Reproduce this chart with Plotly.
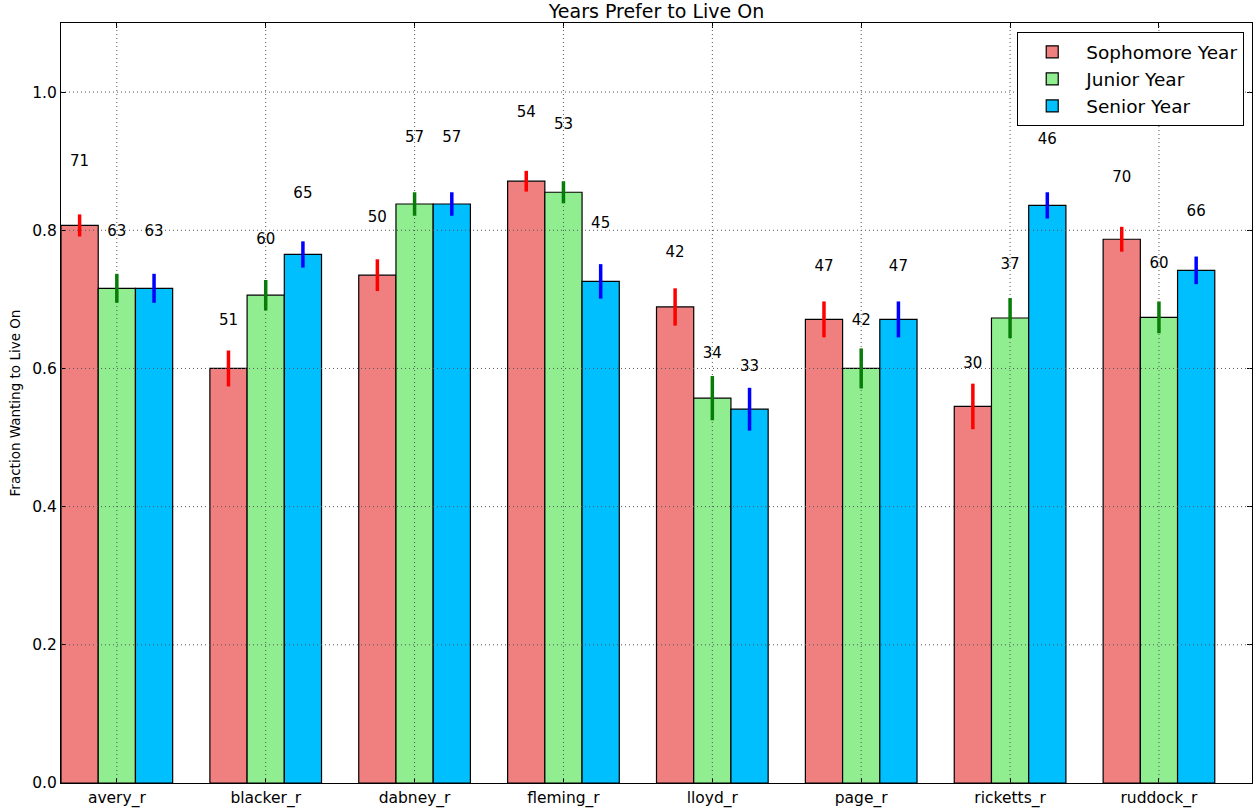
import plotly.graph_objects as go

categories = ["avery_r", "blacker_r", "dabney_r", "fleming_r", "lloyd_r", "page_r", "ricketts_r", "ruddock_r"]
series_names = ["Sophomore Year", "Junior Year", "Senior Year"]

soph_frac = [0.807, 0.600, 0.735, 0.871, 0.689, 0.671, 0.545, 0.787]
junior_frac = [0.716, 0.706, 0.838, 0.855, 0.557, 0.600, 0.673, 0.674]
senior_frac = [0.716, 0.765, 0.838, 0.726, 0.541, 0.671, 0.836, 0.742]

soph_err = [0.016, 0.026, 0.023, 0.015, 0.027, 0.026, 0.033, 0.018]
junior_err = [0.021, 0.022, 0.017, 0.016, 0.032, 0.029, 0.029, 0.023]
senior_err = [0.021, 0.019, 0.017, 0.025, 0.031, 0.026, 0.019, 0.020]

soph_count = [71, 51, 50, 54, 42, 47, 30, 70]
junior_count = [63, 60, 57, 53, 34, 42, 37, 60]
senior_count = [63, 65, 57, 45, 33, 47, 46, 66]

y_ticks = [0.0, 0.2, 0.4, 0.6, 0.8, 1.0]

fills = ["#F08080", "#90EE90", "#00BFFF"]
err_colors = ["red", "green", "blue"]
bar_w = 0.25
label_scale = 1.113

idx = list(range(len(categories)))
fracs = [soph_frac, junior_frac, senior_frac]
errs = [soph_err, junior_err, senior_err]
counts = [soph_count, junior_count, senior_count]
offsets = [-bar_w, 0.0, bar_w]

fig = go.Figure()
for s in range(3):
    xs = [i + offsets[s] for i in idx]
    fig.add_trace(go.Bar(
        x=xs, y=fracs[s], width=bar_w, name=series_names[s],
        marker=dict(color=fills[s], line=dict(color="black", width=1.2)),
        error_y=dict(type="data", array=errs[s], color=err_colors[s], thickness=3.5, width=0),
    ))
for s in range(3):
    xs = [i + offsets[s] for i in idx]
    fig.add_trace(go.Scatter(
        x=xs, y=[v * label_scale for v in fracs[s]], mode="text",
        text=[str(c) for c in counts[s]], textposition="middle center",
        textfont=dict(size=15, color="black", family="DejaVu Sans"),
        showlegend=False, hoverinfo="skip",
    ))

grid_line = dict(color="#555", width=1, dash="1px,3px")
shapes = []
for t in y_ticks[1:]:
    shapes.append(dict(type="line", xref="paper", yref="y", x0=0, x1=1, y0=t, y1=t,
                       line=grid_line, layer="above"))
for i in idx:
    shapes.append(dict(type="line", xref="x", yref="paper", x0=i, x1=i, y0=0, y1=1,
                       line=grid_line, layer="above"))

fig.update_layout(
    width=1253, height=812,
    margin=dict(l=61, r=1, t=23, b=29),
    barmode="overlay",
    paper_bgcolor="white", plot_bgcolor="white",
    font=dict(family="DejaVu Sans", color="black"),
    title=dict(text="Years Prefer to Live On", x=(61 + 1252) / 2 / 1253, xanchor="center",
               y=1 - 11 / 812, yanchor="middle", font=dict(size=19)),
    legend=dict(x=0.9933, y=0.988, xanchor="right", yanchor="top",
                bgcolor="white", bordercolor="black", borderwidth=1.2,
                font=dict(size=18.5), itemwidth=58),
    shapes=shapes,
    showlegend=True,
)
fig.update_xaxes(
    range=[-0.375, 7.625], tickvals=idx, ticktext=categories,
    showgrid=False, zeroline=False, showline=True, linecolor="black", linewidth=1.2,
    mirror="ticks", ticks="inside", ticklen=5, tickcolor="black",
    tickfont=dict(size=15.5),
)
fig.update_yaxes(
    range=[0, 1.1], tickvals=y_ticks, tickformat=".1f",
    showgrid=False, zeroline=False, showline=True, linecolor="black", linewidth=1.2,
    mirror="ticks", ticks="inside", ticklen=5, tickcolor="black",
    tickfont=dict(size=15.5),
    title=dict(text="Fraction Wanting to Live On", font=dict(size=13.5), standoff=8),
)

fig.write_html("out.html", config={"displayModeBar": False},
               post_script="document.body.style.margin='0';document.body.style.overflow='hidden';")
